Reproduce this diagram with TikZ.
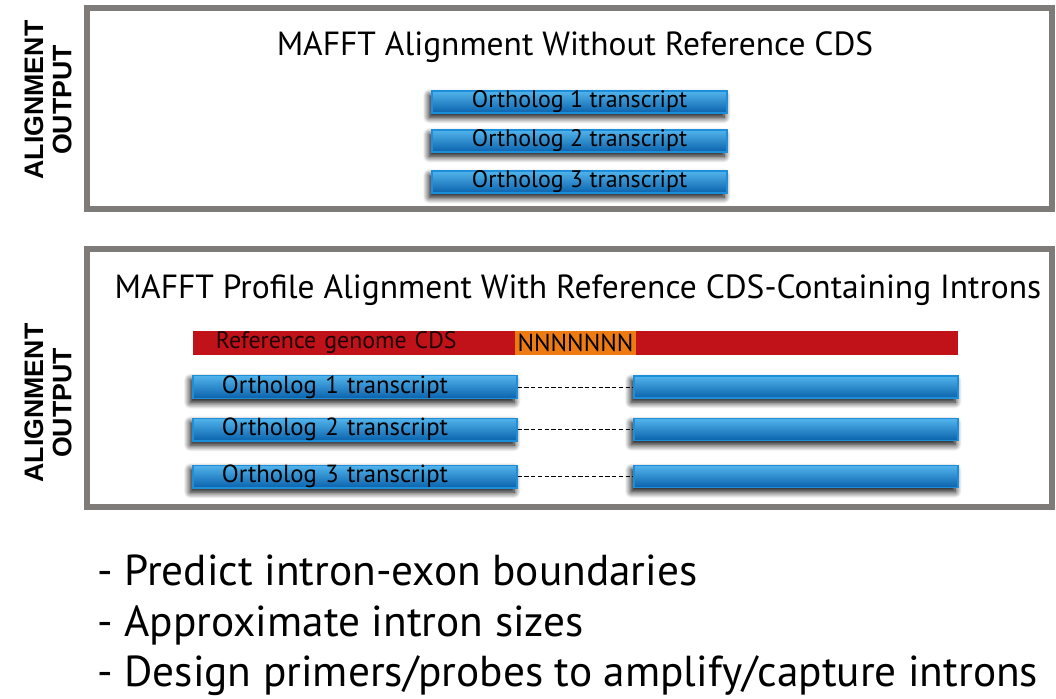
\documentclass[tikz,border=0pt]{standalone}
\usepackage{fontspec}
\setmainfont{PT Sans}
\newfontfamily\sidefont{Liberation Sans}
\usetikzlibrary{shadows.blur}

\definecolor{boxgray}{HTML}{7E7B79}
\definecolor{barlight}{HTML}{52B4EC}
\definecolor{bardark}{HTML}{0A62AC}
\definecolor{barline}{HTML}{1C8EDA}
\definecolor{cdsred}{HTML}{C1121A}
\definecolor{nnorange}{HTML}{EE7A12}

\begin{document}
\begin{tikzpicture}[
        x=0.025cm, y=-0.025cm,
        outbox/.style={draw=boxgray, line width=3.6pt},
        sidelabel/.style={font=\sidefont\bfseries\fontsize{19}{20}\selectfont, rotate=90, align=center},
        title/.style={font=\fontsize{23.8}{26}\selectfont},
        bar/.style={draw=barline, line width=0.8pt, top color=barlight, bottom color=bardark,
            inner sep=0pt, font=\fontsize{17}{18}\selectfont,
            blur shadow={shadow xshift=-2pt, shadow yshift=-3pt, shadow blur radius=4.5pt,
                shadow opacity=100, shadow blur steps=10}},
        gap/.style={dash pattern=on 3pt off 1.8pt, line width=0.6pt},
        point/.style={font=\fontsize{30.8}{32}\selectfont, anchor=base west, inner sep=0pt}
    ]

    \tikzstyle{every node}=[text=black]

    \useasboundingbox (0,0) rectangle (1056,698);

    \draw[outbox] (87,8) rectangle (1052,209);
    \draw[outbox] (87,249) rectangle (1052,507);

    \node (side1) [sidelabel] at (48,100) {ALIGNMENT\\OUTPUT};
    \node (side2) [sidelabel] at (48,403) {ALIGNMENT\\OUTPUT};

    \node (head1) [title] at (575,47) {MAFFT Alignment Without Reference CDS};
    \node (head2) [title] at (578,290) {MAFFT Profile Alignment With Reference CDS-Containing Introns};

    \node (t1) [bar, minimum width=7.375cm, minimum height=0.475cm] at (579.5,102) {Ortholog 1 transcript};
    \node (t2) [bar, minimum width=7.375cm, minimum height=0.475cm] at (579.5,141) {Ortholog 2 transcript};
    \node (t3) [bar, minimum width=7.375cm, minimum height=0.475cm] at (579.5,182) {Ortholog 3 transcript};

    \node (cds) [fill=cdsred, minimum width=19.125cm, minimum height=0.6cm, inner sep=0pt,
        text width=17.975cm, align=left, font=\fontsize{17}{18}\selectfont, text=black!85!cdsred]
        at (575.5,343) {Reference genome CDS};
    \node (nn) [fill=nnorange, minimum width=3.025cm, minimum height=0.6cm, inner sep=0pt,
        font=\fontsize{17.5}{18}\selectfont] at (575.5,343) {NNNNNNN};

    \foreach \i/\y in {1/387, 2/429.5, 3/476.5} {
        \node (o\i l) [bar, minimum width=8.1cm, minimum height=0.55cm, text width=6.65cm, align=left,
            font=\fontsize{17.6}{18}\selectfont] at (355,\y) {Ortholog \i\ transcript};
        \node (o\i r) [bar, minimum width=8.1cm, minimum height=0.55cm] at (796,\y) {};
        \draw[gap] (o\i l.east) -- (o\i r.west);
    }

    \node (p1) [point] at (97,585) {- Predict intron-exon boundaries};
    \node (p2) [point] at (97,636) {- Approximate intron sizes};
    \node (p3) [point] at (97,686) {- Design primers/probes to amplify/capture introns};

\end{tikzpicture}
\end{document}
